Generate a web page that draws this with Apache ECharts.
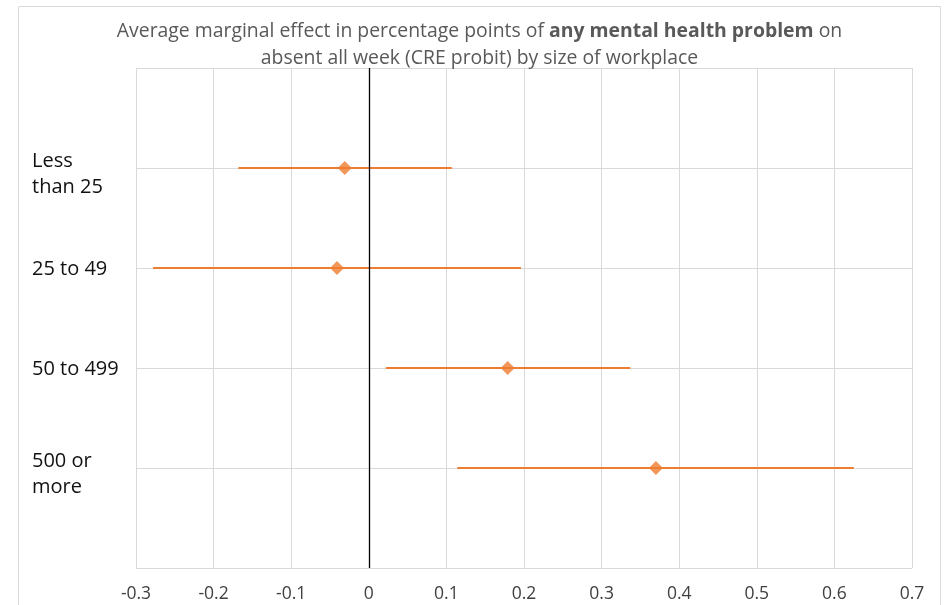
<!DOCTYPE html>
<html>
<head>
<meta charset="utf-8">
<script src="https://cdn.jsdelivr.net/npm/echarts@6/dist/echarts.min.js"></script>
<style>
  html, body { margin: 0; padding: 0; background: #fff; }
  #chart { width: 944px; height: 605px; }
</style>
</head>
<body>
<div id="chart"></div>
<script>
// Workplace size groups, top to bottom
const categories = ['Less\nthan 25', '25 to 49', '50 to 499', '500 or\nmore'];
// Average marginal effect (point estimate) per group
const estimates = [-0.031, -0.041, 0.179, 0.370];
// Confidence interval bounds per group
const lowerBounds = [-0.168, -0.278, 0.022, 0.114];
const upperBounds = [0.107, 0.196, 0.337, 0.625];
// Horizontal axis ticks
const xTicks = [-0.3, -0.2, -0.1, 0, 0.1, 0.2, 0.3, 0.4, 0.5, 0.6, 0.7];

const orange = '#ED7D31';
const gridGray = '#d9d9d9';
const fontFamily = '"Open Sans", "Noto Sans", sans-serif';

const chart = echarts.init(document.getElementById('chart'), null, { renderer: 'canvas' });

const intervalData = categories.map((c, i) => [lowerBounds[i], upperBounds[i], i + 1]);
const pointData = categories.map((c, i) => [estimates[i], i + 1]);

// Category label as rich text; a thin spacer line on top nudges wrapped labels down a little
function categoryLabel(name) {
  const lines = name.split('\n');
  const spacer = lines.length > 1 ? '{s2| }' : '{s1| }';
  return spacer + '\n' + lines.map(l => '{a|' + l + '}').join('\n');
}

chart.setOption({
  backgroundColor: '#fff',
  animation: false,
  title: {
    text: 'Average marginal effect in percentage points of {b|any mental health problem} on\nabsent all week (CRE probit) by size of workplace',
    // centred over the framed area
    left: 474.5,
    textAlign: 'center',
    top: 13,
    textStyle: {
      fontFamily: fontFamily,
      fontSize: 19.4,
      fontWeight: 'normal',
      color: '#595959',
      lineHeight: 27,
      rich: {
        b: { fontFamily: fontFamily, fontSize: 19.4, fontWeight: 'bold', color: '#595959', lineHeight: 27 }
      }
    }
  },
  graphic: [{
    type: 'rect',
    shape: { x: 18.5, y: 6.5, width: 922, height: 620 },
    style: { fill: 'none', stroke: gridGray, lineWidth: 1 },
    silent: true,
    z: -1
  }],
  grid: { left: 136, right: 32, top: 68, bottom: 37, containLabel: false },
  xAxis: {
    type: 'value',
    min: -0.3,
    max: 0.7,
    interval: 0.1,
    axisLine: { show: false },
    axisTick: { show: false },
    splitLine: { show: true, lineStyle: { color: gridGray, width: 1 } },
    axisLabel: {
      margin: 17,
      fontFamily: fontFamily,
      fontSize: 17.5,
      color: '#404040',
      formatter: v => {
        const t = xTicks.find(x => Math.abs(x - v) < 1e-9);
        return t === undefined ? '' : String(t);
      }
    }
  },
  yAxis: {
    type: 'value',
    min: 0,
    max: 5,
    interval: 1,
    inverse: true,
    axisLine: { show: false },
    axisTick: { show: false },
    splitLine: { show: true, lineStyle: { color: gridGray, width: 1 } },
    axisLabel: {
      align: 'left',
      margin: 104,
      formatter: v => {
        const k = Math.round(v);
        return (k >= 1 && k <= categories.length) ? categoryLabel(categories[k - 1]) : '';
      },
      rich: {
        a: { fontFamily: fontFamily, fontSize: 20, color: '#111', lineHeight: 26 },
        s1: { fontSize: 1, lineHeight: 3 },
        s2: { fontSize: 1, lineHeight: 13 }
      }
    }
  },
  series: [
    {
      // right plot border and zero reference line
      type: 'line',
      data: [],
      markLine: {
        silent: true,
        symbol: 'none',
        label: { show: false },
        data: [
          { xAxis: 0, lineStyle: { color: '#000', width: 1.3, type: 'solid' } },
          { xAxis: 0.7, lineStyle: { color: gridGray, width: 1, type: 'solid' } }
        ]
      },
      z: 3
    },
    {
      type: 'custom',
      data: intervalData,
      encode: { x: [0, 1], y: 2 },
      renderItem: (params, api) => {
        const p1 = api.coord([api.value(0), api.value(2)]);
        const p2 = api.coord([api.value(1), api.value(2)]);
        return {
          type: 'line',
          shape: { x1: p1[0], y1: p1[1], x2: p2[0], y2: p2[1] },
          style: { stroke: orange, lineWidth: 2 }
        };
      },
      z: 4
    },
    {
      type: 'scatter',
      data: pointData,
      symbol: 'diamond',
      symbolSize: [14, 14],
      itemStyle: { color: orange },
      z: 5
    }
  ]
});
</script>
</body>
</html>
